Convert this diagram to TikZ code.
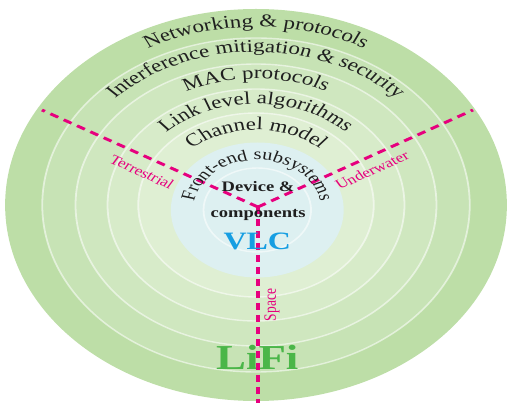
\documentclass[tikz,border=0pt]{standalone}
\usepackage{fontspec}
\setmainfont{Liberation Serif}
\usetikzlibrary{decorations.text}

\definecolor{bandA}{RGB}{189,222,167}
\definecolor{bandB}{RGB}{199,227,181}
\definecolor{bandC}{RGB}{207,231,191}
\definecolor{bandD}{RGB}{215,235,201}
\definecolor{bandE}{RGB}{223,239,211}
\definecolor{coreblue}{RGB}{221,240,241}
\definecolor{magline}{RGB}{230,0,126}
\definecolor{vlcblue}{RGB}{22,158,226}
\definecolor{lifigreen}{RGB}{74,182,72}

\newcommand{\ringfont}{\fontsize{18}{21}\selectfont}
\newcommand{\corefont}{\fontsize{16}{19}\selectfont}

\tikzset{
  ringline/.style={draw=white, draw opacity=0.55, line width=1.4pt},
  arctext/.style={decorate, decoration={text along path, text align=center,
      text color=black!88, text={#1}}},
  dashline/.style={draw=magline, line width=2.8pt, dash pattern=on 7pt off 5pt},
  lbl/.style={text=magline, font=\fontsize{13.5}{16}\selectfont, inner sep=0pt},
  corelbl/.style={font=\bfseries\fontsize{14.5}{17}\selectfont, text=black!88, inner sep=0pt, anchor=base}
}

\begin{document}
\begin{tikzpicture}[x=1pt,y=-1pt]
\useasboundingbox (0,0) rectangle (509,403);
% circular layout, widened horizontally as a whole
\begin{scope}[transform canvas={xscale=1.28}]
  \coordinate (C) at (200,205);
  \coordinate (K) at (201,210);

  % layered rings, outermost first
  \fill[bandA] (C) circle (196);
  \fill[bandB] (C) circle (167);
  \fill[bandC] (C) circle (141);
  \fill[bandD] (C) circle (116);
  \fill[bandE] (C) circle (92);
  \draw[ringline] (C) circle (167);
  \draw[ringline] (C) circle (141);
  \draw[ringline] (C) circle (116);
  \draw[ringline] (C) circle (92);
  \fill[coreblue] (K) circle (67.5);
  \draw[ringline] (K) circle (42);

  % LiFi title sits under the dashed line
  \node[font=\bfseries\fontsize{35}{40}\selectfont, text=lifigreen, inner sep=0pt, anchor=base]
    (lifi) at (201,370) {LiFi};

  % dashed Y separating the three domains
  \coordinate (J)  at (201.5,207);
  \coordinate (TL) at (32.8,110);
  \coordinate (TR) at (369.5,110);
  \coordinate (BT) at (201.5,410);
  \draw[dashline] (J) -- (TL);
  \draw[dashline] (J) -- (TR);
  \draw[dashline] (J) -- (BT);

  \node[lbl, rotate=-30] (terr) at (110.9,172) {Terrestrial};
  \node[lbl, rotate=30]  (under) at (290.6,170) {Underwater};
  \node[lbl, rotate=90]  (space) at (212.5,305) {Space};

  % layer names along the arcs
  \path[arctext={|\ringfont|Networking {\&} protocols}] (22,205) arc[start angle=180, end angle=360, radius=178];
  \path[arctext={|\ringfont|Interference mitigation {\&} security}] (47,205) arc[start angle=180, end angle=360, radius=153];
  \path[arctext={|\ringfont|MAC protocols}] (74,205) arc[start angle=180, end angle=360, radius=126];
  \path[arctext={|\ringfont|Link level algorithms}] (99,205) arc[start angle=180, end angle=360, radius=101];
  \path[arctext={|\ringfont|Channel model}] (125,205) arc[start angle=180, end angle=360, radius=75];
  \path[arctext={|\corefont|Front-end subsystems}] (151.76,218.68) arc[start angle=170, end angle=370, radius=50];

  \node[corelbl] (dev)  at (201.6,192) {Device \&};
  \node[corelbl] (comp) at (201.6,218) {components};
  \node[font=\bfseries\fontsize{25}{30}\selectfont, text=vlcblue, inner sep=0pt, anchor=base]
    (vlc) at (201,250) {VLC};
\end{scope}
\end{tikzpicture}
\end{document}
